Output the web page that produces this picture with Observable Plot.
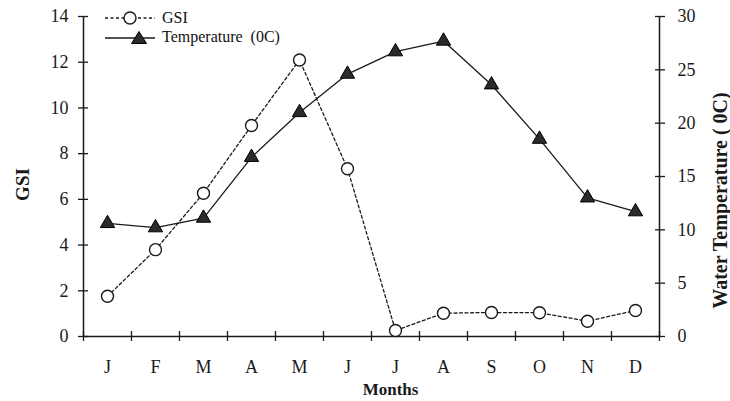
<!DOCTYPE html>
<html>
<head>
<meta charset="utf-8">
<script src="https://cdn.jsdelivr.net/npm/d3@7"></script>
<script src="https://cdn.jsdelivr.net/npm/@observablehq/plot@0.6"></script>
<style>
html, body { margin: 0; padding: 0; background: #fff; }
#chart { position: relative; width: 730px; height: 401px; overflow: hidden; }
#legend { position: absolute; left: 100px; top: 8px; font-family: "Liberation Serif", "Times New Roman", serif; font-size: 16px; color: #111; }
#legend .row { display: flex; align-items: center; height: 19px; }
#legend svg { display: block; margin-right: 4px; }
</style>
</head>
<body>
<div id="chart"></div>
<script>
const months = ["J", "F", "M", "A", "M", "J", "J", "A", "S", "O", "N", "D"];
const gsi = [1.76, 3.8, 6.27, 9.23, 12.1, 7.34, 0.26, 1.02, 1.05, 1.04, 0.67, 1.14];
const temperature = [10.6, 10.2, 11.1, 16.8, 21.0, 24.6, 26.7, 27.7, 23.6, 18.5, 13.0, 11.7];
const gsiTicks = [0, 2, 4, 6, 8, 10, 12, 14];
const tempTicks = [0, 5, 10, 15, 20, 25, 30];
const gsiMax = 14;
const tempMax = 30;
const seriesNames = ["GSI", "Temperature  (0C)"];

const k = gsiMax / tempMax;
const data = months.map((m, i) => ({i, month: m, gsi: gsi[i], temp: temperature[i]}));
const monthCenters = months.map((m, i) => i + 0.5);
const boundaries = d3.range(months.length + 1);
const ink = "#1a1a1a";
const blank = () => "";

const plot = Plot.plot({
  width: 730,
  height: 401,
  marginLeft: 83,
  marginRight: 71,
  marginTop: 16,
  marginBottom: 65,
  style: {fontFamily: "'Liberation Serif', 'Times New Roman', serif", fontSize: "18px", color: ink, background: "#fff"},
  x: {domain: [0, months.length], label: null},
  y: {domain: [0, gsiMax], label: null},
  marks: [
    // axis lines
    Plot.ruleX([0, months.length], {stroke: ink, strokeWidth: 1.5}),
    Plot.ruleY([0], {stroke: ink, strokeWidth: 1.5}),
    // left axis: crossing ticks + labels
    Plot.axisY({anchor: "left", ticks: gsiTicks, tickSize: 10, dx: 5, tickFormat: blank, label: null, stroke: ink, strokeWidth: 1.3}),
    Plot.axisY({anchor: "left", ticks: gsiTicks, tickSize: 0, tickPadding: 15, label: null, fill: ink}),
    // right axis (temperature mapped onto GSI scale)
    Plot.axisY({anchor: "right", ticks: tempTicks.map(t => t * k), tickSize: 10, dx: -5, tickFormat: blank, label: null, stroke: ink, strokeWidth: 1.3}),
    Plot.axisY({anchor: "right", ticks: tempTicks.map(t => t * k), tickSize: 0, tickPadding: 18, label: null, fill: ink,
      tickFormat: d => String(Math.round(d / k))}),
    // x axis
    Plot.axisX({anchor: "bottom", ticks: boundaries, tickSize: 10, dy: -5, tickFormat: blank, label: null, stroke: ink, strokeWidth: 1.3}),
    Plot.axisX({anchor: "bottom", ticks: monthCenters, tickSize: 0, tickPadding: 24, label: null, fill: ink,
      tickFormat: d => months[Math.floor(d)]}),
    // axis titles
    Plot.text(["GSI"], {frameAnchor: "left", textAnchor: "middle", dx: -61, dy: 8, rotate: -90, fontWeight: "bold", fontSize: 19, fill: ink}),
    Plot.text(["Water Temperature ( 0C)"], {frameAnchor: "right", textAnchor: "middle", dx: 61, dy: 24, rotate: -90, fontWeight: "bold", fontSize: 20, fill: ink}),
    Plot.text(["Months"], {frameAnchor: "bottom", textAnchor: "middle", dx: 19, dy: 58, fontWeight: "bold", fontSize: 17, fill: ink}),
    // series
    Plot.line(data, {x: d => d.i + 0.5, y: d => d.temp * k, stroke: ink, strokeWidth: 1.3}),
    Plot.line(data, {x: d => d.i + 0.5, y: "gsi", stroke: ink, strokeWidth: 1.3, strokeDasharray: "3,2.5"}),
    Plot.dot(data, {x: d => d.i + 0.5, y: d => d.temp * k, symbol: "triangle", r: 5.3, fill: "#2b2b2b", stroke: "#000", strokeWidth: 1}),
    Plot.dot(data, {x: d => d.i + 0.5, y: "gsi", r: 6, fill: "#fff", stroke: ink, strokeWidth: 1.4})
  ]
});

const chart = document.getElementById("chart");
chart.appendChild(plot);

const legend = document.createElement("div");
legend.id = "legend";
legend.innerHTML = `
  <div class="row"><svg width="58" height="16"><line x1="5" x2="55" y1="8" y2="8" stroke="${ink}" stroke-width="1.3" stroke-dasharray="3,2.5"/><circle cx="30" cy="8" r="6" fill="#fff" stroke="${ink}" stroke-width="1.4"/></svg><span>${seriesNames[0]}</span></div>
  <div class="row"><svg width="58" height="16"><line x1="5" x2="55" y1="9" y2="9" stroke="${ink}" stroke-width="1.3"/><path d="M39,2.5 L46.5,14.5 L31.5,14.5 Z" fill="#2b2b2b" stroke="#000" stroke-width="1"/></svg><span style="white-space:pre">${seriesNames[1]}</span></div>`;
chart.appendChild(legend);
</script>
</body>
</html>
